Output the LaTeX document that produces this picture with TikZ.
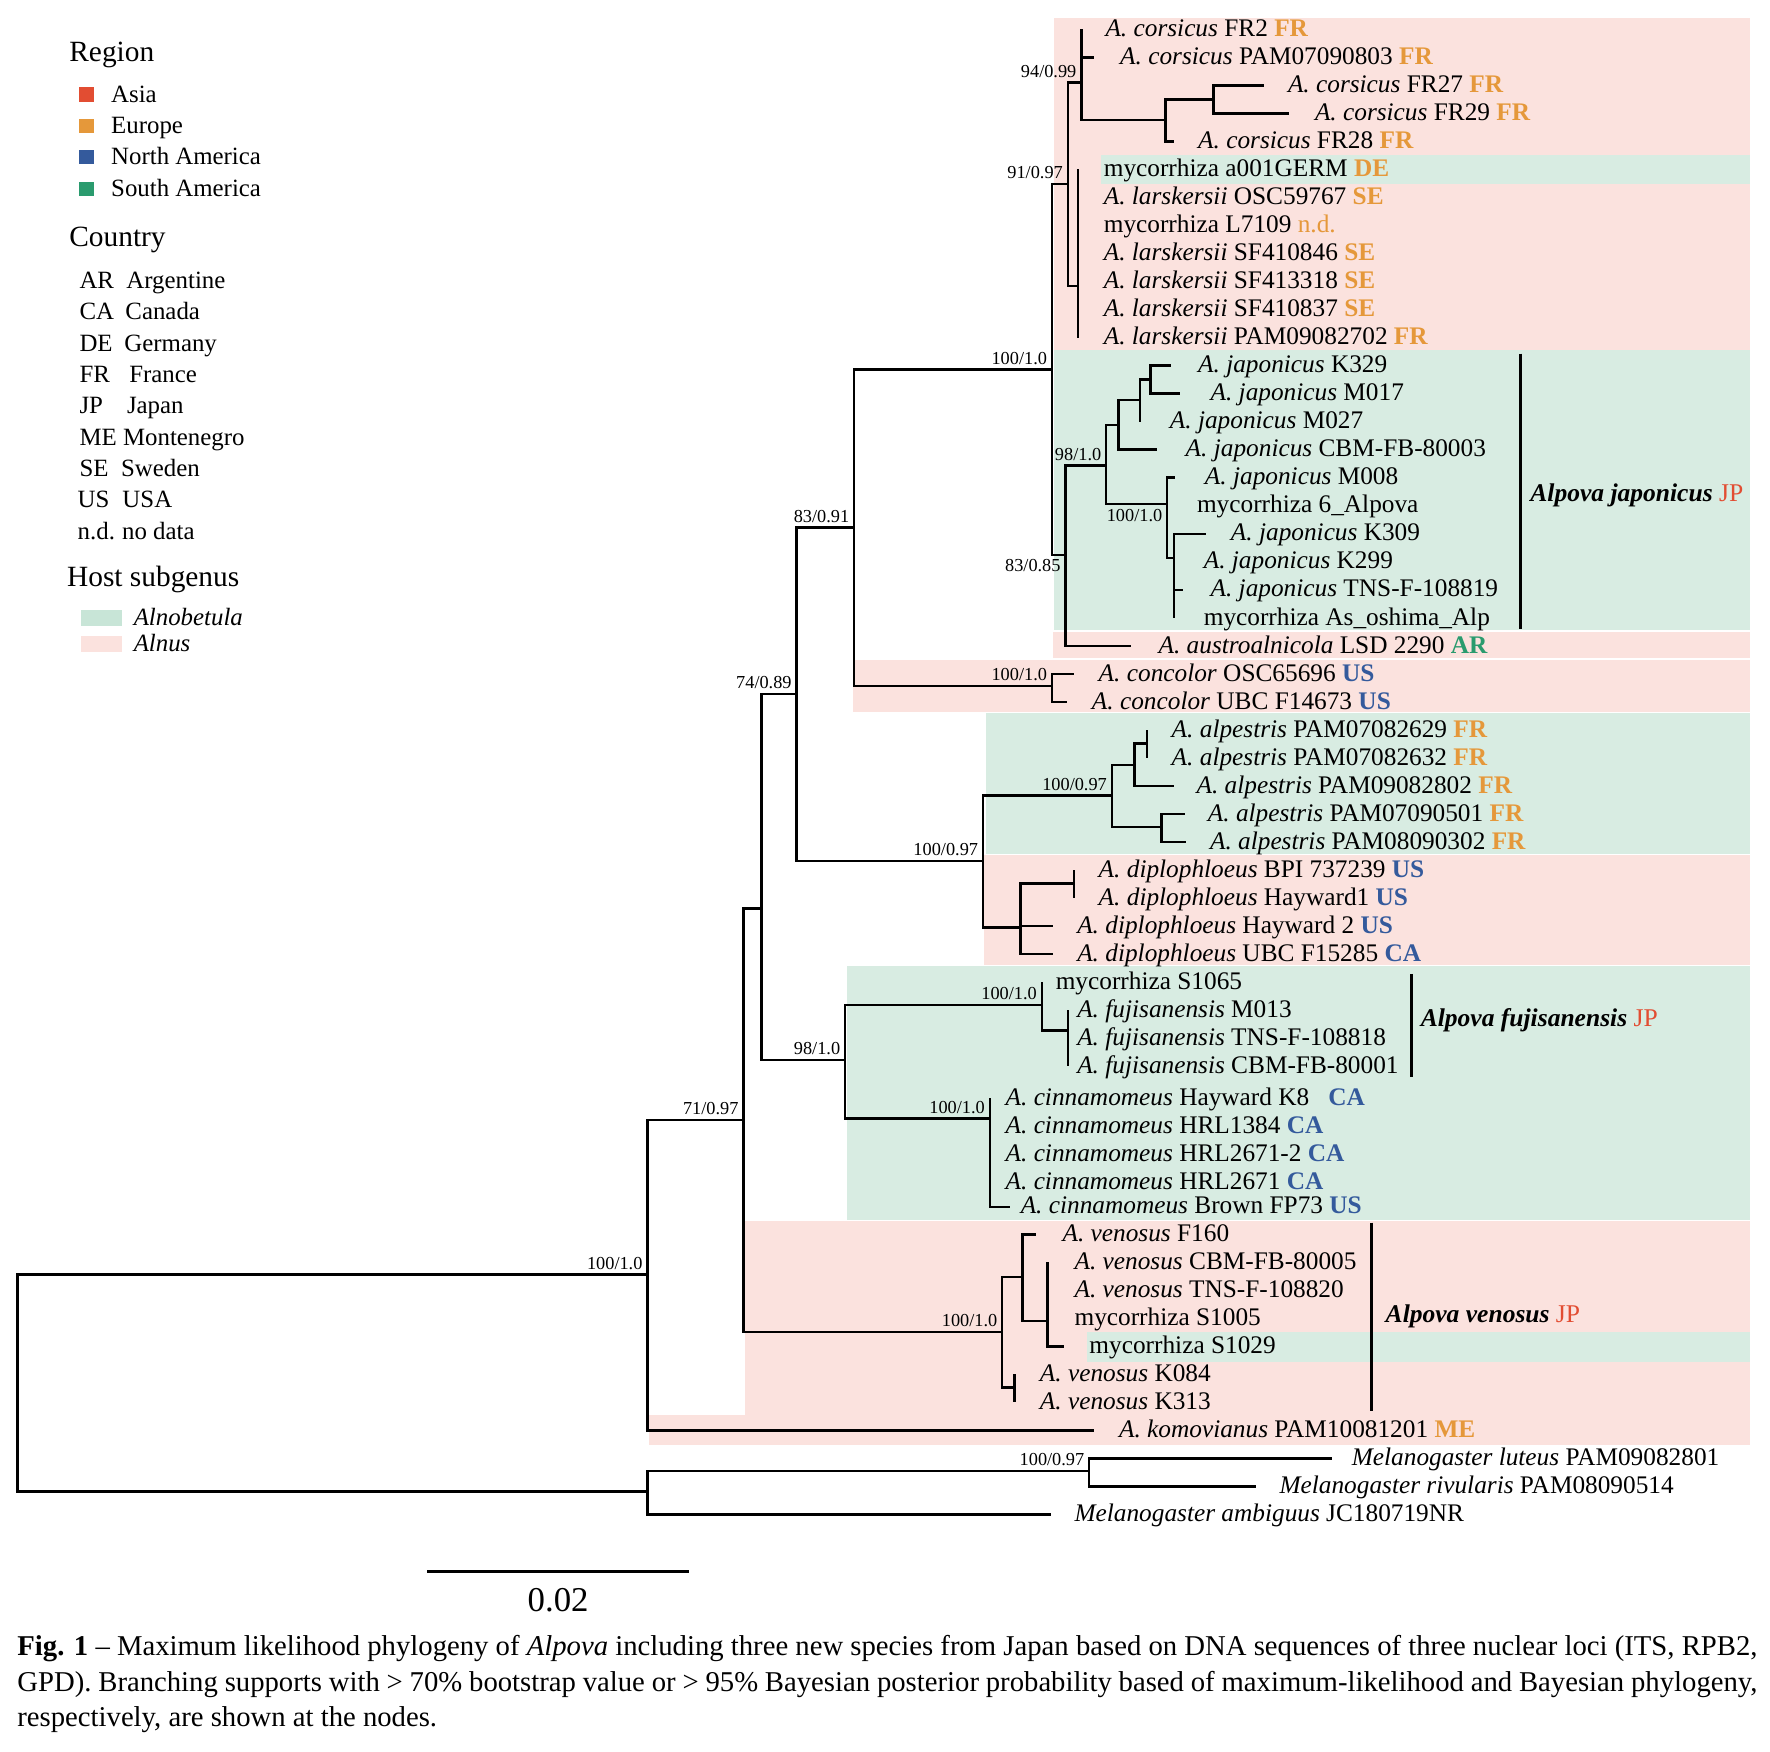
\documentclass[tikz,border=0pt]{standalone}
\usepackage{fontspec}
\setmainfont{Liberation Serif}
\usetikzlibrary{positioning}

\definecolor{alnus}{RGB}{251,226,222}
\definecolor{alnobetula}{RGB}{216,236,226}
\definecolor{alnobetulakey}{RGB}{200,229,215}
\definecolor{asia}{RGB}{226,77,50}
\definecolor{europe}{RGB}{229,152,58}
\definecolor{namerica}{RGB}{52,90,156}
\definecolor{samerica}{RGB}{42,155,110}

\newcommand{\alp}[1]{\textit{A. #1}}
\newcommand{\mel}[1]{\textit{Melanogaster #1}}
\newcommand{\cEU}[1]{\textcolor{europe}{\textbf{#1}}}
\newcommand{\cNA}[1]{\textcolor{namerica}{\textbf{#1}}}
\newcommand{\cSA}[1]{\textcolor{samerica}{\textbf{#1}}}
\newcommand{\cAS}[1]{\textcolor{asia}{\textnormal{#1}}}
% leaf: id, tip x, label x, row y, text
\newcommand{\leaf}[5]{%
  \coordinate (t#1) at (#2,#4);
  \node[leaf] (l#1) at (#3,#4) {#5};}

\begin{document}
\begin{tikzpicture}[x=0.5pt, y=-0.5pt,
  branch/.style={line width=1.1pt},
  cladebar/.style={line width=1.4pt},
  leaf/.style={anchor=west, inner sep=0pt, font=\fontsize{11.2}{12}\selectfont, text height=6.75pt, text depth=0.4pt},
  supp/.style={font=\fontsize{8.1}{9}\selectfont, inner xsep=2pt, inner ysep=2pt},
  clade/.style={anchor=west, inner sep=0pt, font=\fontsize{11.3}{12}\selectfont\bfseries\itshape},
  legtitle/.style={anchor=west, inner sep=0pt, font=\fontsize{13}{14}\selectfont, text height=7.5pt, text depth=0.5pt},
  legitem/.style={anchor=west, inner sep=0pt, font=\fontsize{11}{12}\selectfont, text height=6.6pt, text depth=0.4pt},
  captext/.style={anchor=base west, inner sep=0pt, font=\fontsize{12.7}{14}\selectfont}]
  \useasboundingbox (0,0) rectangle (1566.5,1550.5);

  % host subgenus bands
  \fill[alnus] (933,16.2) rectangle (1549,310);
  \fill[alnobetula] (974,137) rectangle (1549,162.5);
  \fill[alnobetula] (933,310) rectangle (1549,558);
  \fill[alnus] (931.5,559) rectangle (1549,582.5);
  \fill[alnus] (755,584) rectangle (1549,630);
  \fill[alnobetula] (873,631) rectangle (1549,755.5);
  \fill[alnus] (871,756.5) rectangle (1549,854);
  \fill[alnobetula] (750,855) rectangle (1549,1079.5);
  \fill[alnus] (659,1080.5) rectangle (1549,1252);
  \fill[alnus] (574,1252) rectangle (1549,1279);
  \fill[alnobetula] (962,1178.5) rectangle (1549,1205.5);

  % internal nodes
  \coordinate (nRoot) at (15.5,1224);
  \coordinate (nIn) at (573,1128);
  \coordinate (nOut) at (573,1320);
  \coordinate (nMel) at (964,1302);
  \coordinate (n7197) at (658,991);
  \coordinate (n7489) at (674,804);
  \coordinate (n8391) at (705,614);
  \coordinate (nX) at (756,467);
  \coordinate (nTop) at (931,327);
  \coordinate (n9197) at (945,163);
  \coordinate (nCors) at (957,73);
  \coordinate (nC2) at (1031.6,106);
  \coordinate (nC3) at (1074,88);
  \coordinate (nLars) at (954,253);
  \coordinate (n8385) at (943,491);
  \coordinate (nJap) at (979,412);
  \coordinate (nJ1) at (990,376);
  \coordinate (nJ2) at (1009,354);
  \coordinate (nJ3) at (1018,336);
  \coordinate (nJ100) at (1033,446);
  \coordinate (nJ4) at (1039,494);
  \coordinate (nCon) at (931,607);
  \coordinate (nAD) at (870,762);
  \coordinate (nAlp) at (984,704);
  \coordinate (nA1) at (1004,677);
  \coordinate (nA0) at (1015,658);
  \coordinate (nA2) at (1028,732);
  \coordinate (nDip) at (903,821);
  \coordinate (nD1) at (950.5,782);
  \coordinate (n981) at (748,938);
  \coordinate (nFuji) at (922,889.5);
  \coordinate (nF1) at (945,912);
  \coordinate (nCinn) at (876,990);
  \coordinate (nVen) at (887,1179);
  \coordinate (nV1) at (905,1130);
  \coordinate (nV3) at (927,1169);
  \coordinate (nV2) at (898,1228);

  % leaves
  \leaf{0}{957}{978}{26.0}{\alp{corsicus} FR2 \cEU{FR}}
  \leaf{1}{968}{991}{50.8}{\alp{corsicus} PAM07090803 \cEU{FR}}
  \leaf{2}{1118.7}{1139.5}{75.6}{\alp{corsicus} FR27 \cEU{FR}}
  \leaf{3}{1141}{1163.4}{100.4}{\alp{corsicus} FR29 \cEU{FR}}
  \leaf{4}{1038.6}{1060}{125.2}{\alp{corsicus} FR28 \cEU{FR}}
  \leaf{5}{954}{976.5}{150.0}{mycorrhiza a001GERM \cEU{DE}}
  \leaf{6}{954}{976.5}{174.8}{\alp{larskersii} OSC59767 \cEU{SE}}
  \leaf{7}{954}{976.5}{199.6}{mycorrhiza L7109 \textcolor{europe}{n.d.}}
  \leaf{8}{954}{976.5}{224.4}{\alp{larskersii} SF410846 \cEU{SE}}
  \leaf{9}{954}{976.5}{249.2}{\alp{larskersii} SF413318 \cEU{SE}}
  \leaf{10}{954}{976.5}{274.0}{\alp{larskersii} SF410837 \cEU{SE}}
  \leaf{11}{954}{976.5}{298.8}{\alp{larskersii} PAM09082702 \cEU{FR}}
  \leaf{12}{1036}{1060}{323.6}{\alp{japonicus} K329}
  \leaf{13}{1044}{1071}{348.4}{\alp{japonicus} M017}
  \leaf{14}{1009}{1035}{373.2}{\alp{japonicus} M027}
  \leaf{15}{1024}{1049}{398.0}{\alp{japonicus} CBM-FB-80003}
  \leaf{16}{1040}{1066}{422.8}{\alp{japonicus} M008}
  \leaf{17}{1033}{1059}{447.6}{mycorrhiza 6\_Alpova}
  \leaf{18}{1067}{1089}{472.4}{\alp{japonicus} K309}
  \leaf{19}{1039}{1065}{497.2}{\alp{japonicus} K299}
  \leaf{20}{1047}{1071}{522.0}{\alp{japonicus} TNS-F-108819}
  \leaf{21}{1039}{1065}{546.8}{mycorrhiza As\_oshima\_Alp}
  \leaf{22}{1000.7}{1025}{571.6}{\alp{austroalnicola} LSD 2290 \cSA{AR}}
  \leaf{23}{950.6}{972}{596.4}{\alp{concolor} OSC65696 \cNA{US}}
  \leaf{24}{944}{966}{621.2}{\alp{concolor} UBC F14673 \cNA{US}}
  \leaf{25}{1015}{1036.6}{646.0}{\alp{alpestris} PAM07082629 \cEU{FR}}
  \leaf{26}{1015}{1036.6}{670.8}{\alp{alpestris} PAM07082632 \cEU{FR}}
  \leaf{27}{1038.6}{1058.6}{695.6}{\alp{alpestris} PAM09082802 \cEU{FR}}
  \leaf{28}{1049}{1068.6}{720.4}{\alp{alpestris} PAM07090501 \cEU{FR}}
  \leaf{29}{1050}{1070.5}{745.2}{\alp{alpestris} PAM08090302 \cEU{FR}}
  \leaf{30}{950.5}{972}{770.0}{\alp{diplophloeus} BPI 737239 \cNA{US}}
  \leaf{31}{950.5}{972}{794.8}{\alp{diplophloeus} Hayward1 \cNA{US}}
  \leaf{32}{932}{953}{819.6}{\alp{diplophloeus} Hayward 2 \cNA{US}}
  \leaf{33}{932}{953}{844.4}{\alp{diplophloeus} UBC F15285 \cNA{CA}}
  \leaf{34}{922}{934}{869.2}{mycorrhiza S1065}
  \leaf{35}{945}{953}{894.0}{\alp{fujisanensis} M013}
  \leaf{36}{945}{953}{918.8}{\alp{fujisanensis} TNS-F-108818}
  \leaf{37}{945}{953}{943.6}{\alp{fujisanensis} CBM-FB-80001}
  \leaf{38}{876}{889.6}{972.0}{\alp{cinnamomeus} Hayward K8\hspace{0.5em} \cNA{CA}}
  \leaf{39}{876}{889.6}{997.0}{\alp{cinnamomeus} HRL1384 \cNA{CA}}
  \leaf{40}{876}{889.6}{1021.5}{\alp{cinnamomeus} HRL2671-2 \cNA{CA}}
  \leaf{41}{876}{889.6}{1046.5}{\alp{cinnamomeus} HRL2671 \cNA{CA}}
  \leaf{42}{894}{903}{1068.0}{\alp{cinnamomeus} Brown FP73 \cNA{US}}
  \leaf{43}{917}{940}{1092.4}{\alp{venosus} F160}
  \leaf{44}{927}{950.6}{1117.2}{\alp{venosus} CBM-FB-80005}
  \leaf{45}{927}{950.6}{1142.0}{\alp{venosus} TNS-F-108820}
  \leaf{46}{927}{950.6}{1166.8}{mycorrhiza S1005}
  \leaf{47}{941.7}{963.8}{1191.6}{mycorrhiza S1029}
  \leaf{48}{898}{920}{1216.4}{\alp{venosus} K084}
  \leaf{49}{898}{920}{1241.2}{\alp{venosus} K313}
  \leaf{50}{968}{990}{1266.0}{\alp{komovianus} PAM10081201 \cEU{ME}}
  \leaf{51}{1179}{1196}{1290.8}{\mel{luteus} PAM09082801}
  \leaf{52}{1112}{1132}{1315.6}{\mel{rivularis} PAM08090514}
  \leaf{53}{929.8}{950.6}{1340.4}{\mel{ambiguus} JC180719NR}

  % branches
  \draw[branch] (nRoot) |- (nIn) (nRoot) |- (nOut);
  \draw[branch] (nIn) |- (n7197) (nIn) |- (t50);
  \draw[branch] (nOut) |- (nMel) (nOut) |- (t53);
  \draw[branch] (nMel) |- (t51) (nMel) |- (t52);
  \draw[branch] (n7197) |- (n7489) (n7197) |- (nVen);
  \draw[branch] (n7489) |- (n8391) (n7489) |- (n981);
  \draw[branch] (n8391) |- (nX) (n8391) |- (nAD);
  \draw[branch] (nX) |- (nTop) (nX) |- (nCon);
  \draw[branch] (nTop) |- (n9197) (nTop) |- (n8385);
  \draw[branch] (n9197) |- (nCors) (n9197) |- (nLars);
  \draw[branch] (nCors) |- (t0) (nCors) |- (t1) (nCors) |- (nC2);
  \draw[branch] (nC2) |- (nC3) (nC2) |- (t4);
  \draw[branch] (nC3) |- (t2) (nC3) |- (t3);
  \draw[branch] (nLars) |- (t5) (nLars) |- (t11);
  \draw[branch] (n8385) |- (nJap) (n8385) |- (t22);
  \draw[branch] (nJap) |- (nJ1) (nJap) |- (nJ100);
  \draw[branch] (nJ1) |- (nJ2) (nJ1) |- (t15);
  \draw[branch] (nJ2) |- (nJ3) (nJ2) |- (t14);
  \draw[branch] (nJ3) |- (t12) (nJ3) |- (t13);
  \draw[branch] (nJ100) |- (t16) (nJ100) |- (t17) (nJ100) |- (nJ4);
  \draw[branch] (nJ4) |- (t18) (nJ4) |- (t20) (nJ4) |- (t21);
  \draw[branch] (nCon) |- (t23) (nCon) |- (t24);
  \draw[branch] (nAD) |- (nAlp) (nAD) |- (nDip);
  \draw[branch] (nAlp) |- (nA1) (nAlp) |- (nA2);
  \draw[branch] (nA1) |- (nA0) (nA1) |- (t27);
  \draw[branch] (nA0) |- (t25) (nA0) |- (t26);
  \draw[branch] (nA2) |- (t28) (nA2) |- (t29);
  \draw[branch] (nDip) |- (nD1) (nDip) |- (t32) (nDip) |- (t33);
  \draw[branch] (nD1) |- (t30) (nD1) |- (t31);
  \draw[branch] (n981) |- (nFuji) (n981) |- (nCinn);
  \draw[branch] (nFuji) |- (t34) (nFuji) |- (nF1);
  \draw[branch] (nF1) |- (t35) (nF1) |- (t37);
  \draw[branch] (nCinn) |- (t38) (nCinn) |- (t42);
  \draw[branch] (nVen) |- (nV1) (nVen) |- (nV2);
  \draw[branch] (nV1) |- (t43) (nV1) |- (nV3);
  \draw[branch] (nV3) |- (t44) (nV3) |- (t47);
  \draw[branch] (nV2) |- (t48) (nV2) |- (t49);

  % support values
  \node[supp, anchor=south east] (sIn) at (nIn) {100/1.0};
  \node[supp, anchor=south east] (s7197) at (n7197) {71/0.97};
  \node[supp, anchor=south east] (s8391) at (n8391) {74/0.89};
  \node[supp, anchor=south east] (sX) at (nX) {83/0.91};
  \node[supp, anchor=south east] (sTop) at (nTop) {100/1.0};
  \node[supp, anchor=south east] (s9197) at (n9197) {91/0.97};
  \node[supp, anchor=south east] (sCors) at (nCors) {94/0.99};
  \node[supp, anchor=north east] (s8385) at (n8385) {83/0.85};
  \node[supp, anchor=south east] (sJap) at (nJap) {98/1.0};
  \node[supp, anchor=north east] (sJ100) at (nJ100) {100/1.0};
  \node[supp, anchor=south east] (sCon) at (nCon) {100/1.0};
  \node[supp, anchor=south east] (sAD) at (nAD) {100/0.97};
  \node[supp, anchor=south east] (sAlp) at (nAlp) {100/0.97};
  \node[supp, anchor=south east] (s981) at (n981) {98/1.0};
  \node[supp, anchor=south east] (sFuji) at (nFuji) {100/1.0};
  \node[supp, anchor=south east] (sCinn) at (nCinn) {100/1.0};
  \node[supp, anchor=south east] (sVen) at (nVen) {100/1.0};
  \node[supp, anchor=south east] (sMel) at (nMel) {100/0.97};

  % new species bars
  \coordinate (bJapT) at (1346,313);
  \coordinate (bJapB) at (1346,557);
  \draw[cladebar] (bJapT) -- (bJapB);
  \node[clade] (cJap) at (1354,438) {Alpova japonicus \cAS{JP}};
  \coordinate (bFujT) at (1249,862);
  \coordinate (bFujB) at (1249,953);
  \draw[cladebar] (bFujT) -- (bFujB);
  \node[clade] (cFuj) at (1257,903) {Alpova fujisanensis \cAS{JP}};
  \coordinate (bVenT) at (1213.5,1082);
  \coordinate (bVenB) at (1213.5,1249);
  \draw[cladebar] (bVenT) -- (bVenB);
  \node[clade] (cVen) at (1226,1165) {Alpova venosus \cAS{JP}};

  % legend
  \node[legtitle] (gRegion) at (61,47) {Region};
  \fill[asia] (70,77.4) rectangle (83.5,90);
  \fill[europe] (70,105.2) rectangle (83.5,117.8);
  \fill[namerica] (70,132.6) rectangle (83.5,145.2);
  \fill[samerica] (70,160.8) rectangle (83.5,173.4);
  \node[legitem] (gAsia) at (98,84.5) {Asia};
  \node[legitem] (gEurope) at (98,112.3) {Europe};
  \node[legitem] (gNAm) at (98,139.7) {North America};
  \node[legitem] (gSAm) at (98,167.9) {South America};

  \node[legtitle] (gCountry) at (61,211) {Country};
  \node[legitem] (kAR) at (70,249) {AR};
  \node[legitem] (vAR) at (111.5,249) {Argentine};
  \node[legitem] (kCA) at (70,276.6) {CA};
  \node[legitem] (vCA) at (110.6,276.6) {Canada};
  \node[legitem] (kDE) at (70,304.8) {DE};
  \node[legitem] (vDE) at (109.7,304.8) {Germany};
  \node[legitem] (kFR) at (70,332.6) {FR};
  \node[legitem] (vFR) at (114,332.6) {France};
  \node[legitem] (kJP) at (70,360) {JP};
  \node[legitem] (vJP) at (112,360) {Japan};
  \node[legitem] (kME) at (70,387.7) {ME};
  \node[legitem] (vME) at (108.5,387.7) {Montenegro};
  \node[legitem] (kSE) at (70,415.5) {SE};
  \node[legitem] (vSE) at (106.8,415.5) {Sweden};
  \node[legitem] (kUS) at (68.4,443.3) {US};
  \node[legitem] (vUS) at (108,443.3) {USA};
  \node[legitem] (kND) at (68.4,471) {n.d.};
  \node[legitem] (vND) at (107.7,471) {no data};

  \node[legtitle] (gHost) at (59,512) {Host subgenus};
  \fill[alnobetulakey] (71.7,539.7) rectangle (108,553.6);
  \fill[alnus] (71.7,562.8) rectangle (108,576.7);
  \node[legitem] (gAlnobetula) at (118,547) {\textit{Alnobetula}};
  \node[legitem] (gAlnus) at (118,570) {\textit{Alnus}};

  % scale bar
  \coordinate (sbL) at (378,1391);
  \coordinate (sbR) at (610,1391);
  \draw[line width=1.3pt] (sbL) -- (sbR);
  \node[font=\fontsize{15.4}{16}\selectfont] (sbLabel) at (494,1416) {0.02};

  % caption
  \node[captext] (cap1) at (15,1465) {\makebox[770pt][s]{\textbf{\mbox{Fig. 1}} – Maximum likelihood phylogeny of \textit{Alpova} including three new species from Japan based on DNA sequences of three nuclear loci (ITS, RPB2,}};
  \node[captext] (cap2) at (15,1497) {\makebox[770pt][s]{GPD). Branching supports with > 70\% bootstrap value or > 95\% Bayesian posterior probability based of maximum-likelihood and Bayesian phylogeny,}};
  \node[captext] (cap3) at (15,1528) {respectively, are shown at the nodes.};
\end{tikzpicture}
\end{document}
